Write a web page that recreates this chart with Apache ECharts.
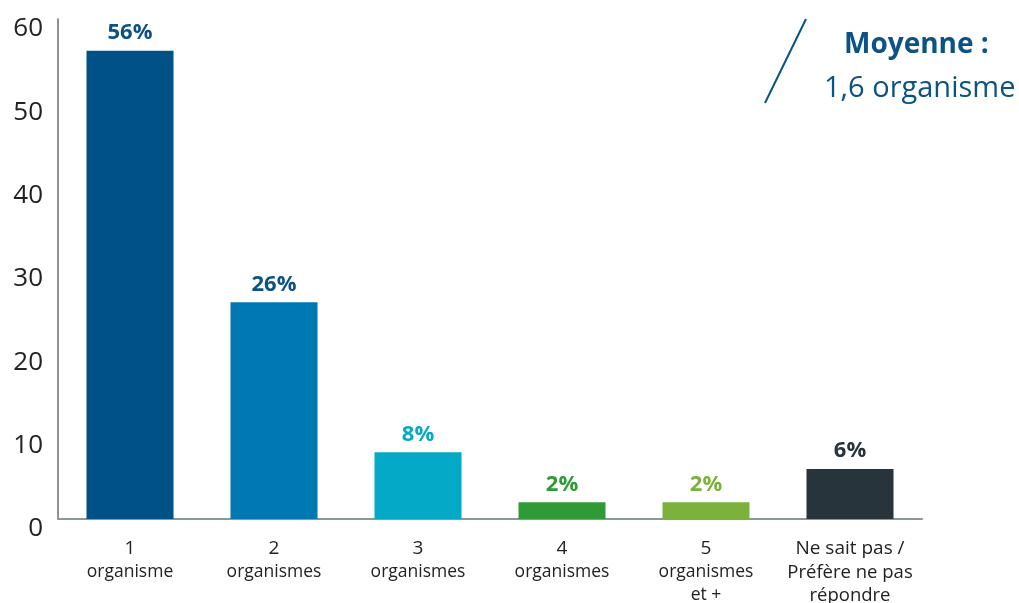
<!DOCTYPE html>
<html>
<head>
<meta charset="utf-8">
<script src="https://cdn.jsdelivr.net/npm/echarts@6/dist/echarts.min.js"></script>
<style>
  html, body { margin: 0; padding: 0; background: #fff; }
  #chart { width: 1019px; height: 603px; }
</style>
</head>
<body>
<div id="chart"></div>
<script>
// données
const categories = ['1\norganisme', '2\norganismes', '3\norganismes', '4\norganismes', '5\norganismes\net +', 'Ne sait pas /\nPréfère ne pas\nrépondre'];
const values = [56.2, 26, 8, 2, 2, 6];
const labels = ['56%', '26%', '8%', '2%', '2%', '6%'];
const barColors = ['#005286', '#0079b3', '#05a9c8', '#2e9b36', '#7ab23c', '#27343b'];
const labelColors = ['#0b5285', '#0b5285', '#05a9c8', '#2e9b36', '#7ab23c', '#27343b'];

const font = '"Open Sans", sans-serif';
const chart = echarts.init(document.getElementById('chart'), null, { renderer: 'canvas' });

const option = {
  animation: false,
  grid: { left: 58, right: 97, top: 19, bottom: 84, containLabel: false, outerBoundsMode: 'none' },
  xAxis: {
    type: 'category',
    data: categories,
    axisTick: { show: false },
    axisLine: { lineStyle: { color: '#8c969b', width: 2 } },
    axisLabel: {
      margin: 18,
      interval: 0,
      color: '#222',
      fontFamily: font,
      formatter: function (v, i) {
        const parts = v.split('\n');
        if (i === 5) return '{a|' + parts[0] + '}\n' + parts.slice(1).map(p => '{c|' + p + '}').join('\n');
        return '{a|' + parts[0] + '}\n' + parts.slice(1).map(p => '{b|' + p + '}').join('\n');
      },
      rich: {
        a: { fontSize: 19, lineHeight: 24, color: '#222', fontFamily: font },
        b: { fontSize: 17.5, lineHeight: 23, color: '#222', fontFamily: font },
        c: { fontSize: 18.5, lineHeight: 23, color: '#222', fontFamily: font }
      }
    }
  },
  yAxis: {
    type: 'value',
    min: 0,
    max: 60,
    interval: 10,
    splitLine: { show: false },
    axisTick: { show: false },
    axisLine: { show: true, lineStyle: { color: '#6b6f72', width: 1.5 } },
    axisLabel: {
      margin: 15,
      fontSize: 26,
      color: '#222',
      fontFamily: font,
      verticalAlign: 'top',
      padding: [-3, 0, 0, 0]
    }
  },
  series: [{
    type: 'bar',
    barWidth: 87,
    data: values.map((v, i) => ({
      value: v,
      itemStyle: { color: barColors[i] },
      label: { color: labelColors[i] }
    })),
    label: {
      show: true,
      position: 'top',
      distance: 7,
      fontSize: 22,
      fontWeight: 'bold',
      fontFamily: font,
      formatter: p => labels[p.dataIndex]
    }
  }],
  graphic: [
    { type: 'line', shape: { x1: 806, y1: 19, x2: 765, y2: 103 }, style: { stroke: '#0b5285', lineWidth: 2 } },
    { type: 'text', left: 844, top: 31, style: { text: 'Moyenne :', fontSize: 28, fontWeight: 'bold', fill: '#0b5285', fontFamily: font } },
    { type: 'text', left: 824, top: 74, style: { text: '1,6 organisme', fontSize: 29, fill: '#0b5285', fontFamily: font } }
  ]
};

chart.setOption(option);
</script>
</body>
</html>
